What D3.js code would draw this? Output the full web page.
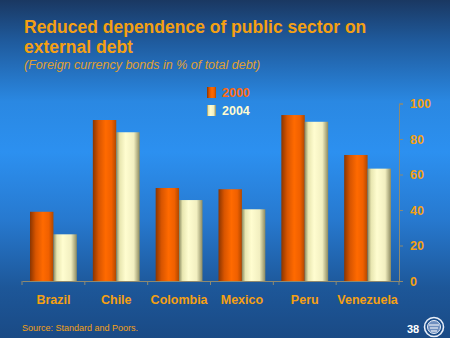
<!DOCTYPE html>
<html><head><meta charset="utf-8">
<script src="https://cdn.jsdelivr.net/npm/d3@7"></script>
<style>html,body{margin:0;padding:0;background:#1c3f6e;}svg{display:block;}</style>
</head><body>
<script>
const categories = ["Brazil","Chile","Colombia","Mexico","Peru","Venezuela"];
const series = ["2000","2004"];
const values2000 = [39, 90.7, 52.4, 51.7, 93.5, 71];
const values2004 = [26.3, 83.8, 45.6, 40.4, 89.7, 63.3];
const yTicks = [0,20,40,60,80,100];

const W=450,H=338;
const svg=d3.select("body").append("svg").attr("width",W).attr("height",H);
const defs=svg.append("defs");
const bg=defs.append("linearGradient").attr("id","bg").attr("x1",0).attr("y1",0).attr("x2",0).attr("y2",1);
[[0,"#1a3862"],[0.12,"#1f5a9c"],[0.3,"#2a88e2"],[0.45,"#2c90f0"],[0.65,"#2779cf"],[0.85,"#1d5799"],[1,"#1a4a85"]].forEach(s=>bg.append("stop").attr("offset",s[0]).attr("stop-color",s[1]));
const go=defs.append("linearGradient").attr("id","go").attr("x1",0).attr("y1",0).attr("x2",1).attr("y2",0);
[[0,"#8a3500"],[0.25,"#d85500"],[0.55,"#ff6a00"],[0.8,"#f06000"],[1,"#b04800"]].forEach(s=>go.append("stop").attr("offset",s[0]).attr("stop-color",s[1]));
const gc=defs.append("linearGradient").attr("id","gc").attr("x1",0).attr("y1",0).attr("x2",1).attr("y2",0);
[[0,"#8a8a60"],[0.15,"#e8e6b0"],[0.4,"#fffdd0"],[0.75,"#f2efc0"],[1,"#8c8a60"]].forEach(s=>gc.append("stop").attr("offset",s[0]).attr("stop-color",s[1]));

svg.append("rect").attr("width",W).attr("height",H).attr("fill","url(#bg)");

const orange="#f5a012";
const font="Liberation Sans, Arial, sans-serif";
svg.append("text").attr("x",24).attr("y",33).attr("fill",orange).attr("font-family",font).attr("font-weight","bold").attr("font-size",17.5).text("Reduced dependence of public sector on");
svg.append("text").attr("x",24).attr("y",53).attr("fill",orange).attr("font-family",font).attr("font-weight","bold").attr("font-size",17.5).text("external debt");
svg.append("text").attr("x",24).attr("y",69).attr("fill","#e0a030").attr("font-family",font).attr("font-style","italic").attr("font-size",12.5).text("(Foreign currency bonds in % of total debt)");

const x=d3.scaleBand().domain(categories).range([22,399]).padding(0);
const xs=d3.scaleBand().domain(series).range([8,x.bandwidth()-8]).padding(0);
const y=d3.scaleLinear().domain([0,100]).range([281,103.5]);

const data=categories.map((c,i)=>({c,vals:[values2000[i],values2004[i]]}));
const g=svg.append("g");
const grp=g.selectAll("g.cat").data(data).join("g").attr("transform",d=>`translate(${x(d.c)},0)`);
grp.selectAll("rect").data(d=>d.vals.map((v,j)=>({s:series[j],v}))).join("rect")
 .attr("x",d=>xs(d.s)).attr("width",xs.bandwidth()).attr("y",d=>y(d.v)).attr("height",d=>y(0)-y(d.v))
 .attr("fill",d=>d.s==="2000"?"url(#go)":"url(#gc)");

const axisColor="#8f8a70";
const xa=svg.append("g").attr("transform",`translate(0,${y(0)})`).call(d3.axisBottom(x).tickSize(0).tickPadding(14));
xa.select(".domain").attr("stroke",axisColor);
xa.selectAll("text").attr("fill",orange).attr("font-family",font).attr("font-weight","bold").attr("font-size",12.5);
const xticks=categories.map(c=>x(c)).concat([x.range()[1]]);
svg.append("g").selectAll("line").data(xticks).join("line").attr("x1",d=>d).attr("x2",d=>d).attr("y1",y(0)).attr("y2",y(0)+4).attr("stroke",axisColor);
const ya=svg.append("g").attr("transform",`translate(399,0)`).call(d3.axisRight(y).tickValues(yTicks).tickSize(4).tickPadding(7));
ya.select(".domain").attr("stroke",axisColor);
ya.selectAll(".tick line").attr("stroke",axisColor);
ya.selectAll("text").attr("fill",orange).attr("font-family",font).attr("font-weight","bold").attr("font-size",12.5);

const leg=svg.append("g");
series.forEach((s,i)=>{
  const ly=87+i*18;
  leg.append("rect").attr("x",207).attr("y",ly).attr("width",9).attr("height",11).attr("fill",i===0?"url(#go)":"url(#gc)");
  leg.append("text").attr("x",222).attr("y",ly+10).attr("fill",i===0?"#ff6a10":"#fffbd0").attr("font-family",font).attr("font-weight","bold").attr("font-size",12.5).text(s);
});

svg.append("text").attr("x",22).attr("y",331).attr("fill",orange).attr("font-family",font).attr("font-size",9).text("Source: Standard and Poors.");
svg.append("text").attr("x",407).attr("y",333).attr("fill","#ffffff").attr("font-family",font).attr("font-weight","bold").attr("font-size",11).text("38");
const lg=svg.append("g").attr("transform","translate(434,327)");
lg.append("circle").attr("r",9.5).attr("fill","none").attr("stroke","#e8eef8").attr("stroke-width",1.6);
lg.append("circle").attr("r",6.5).attr("fill","#6f8fbf").attr("stroke","#e8eef8").attr("stroke-width",1);
lg.append("path").attr("d","M-5,-2 L5,-2 M-4,1 L4,1 M-3,4 L3,4").attr("stroke","#ffffff").attr("stroke-width",1.2);
</script>
</body></html>
